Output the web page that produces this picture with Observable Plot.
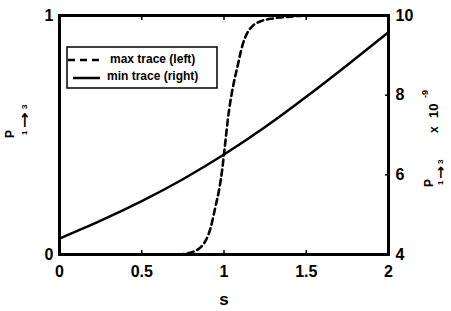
<!DOCTYPE html>
<html><head><meta charset="utf-8">
<script src="https://cdn.jsdelivr.net/npm/d3@7"></script>
<script src="https://cdn.jsdelivr.net/npm/@observablehq/plot@0.6"></script>
<style>
body{margin:0;background:#fff}
#chart{width:451px;height:311px}
</style></head><body><div id="chart"></div>
<script>
// max trace (left axis)
const sMax = [0.72, 0.78, 0.857, 0.918, 0.948, 0.97, 0.99, 1.0, 1.03, 1.06, 1.08, 1.11, 1.14, 1.18, 1.22, 1.30, 1.40, 1.50, 1.60];
const pMax = [0.0, 0.005, 0.03, 0.11, 0.20, 0.27, 0.36, 0.42, 0.60, 0.72, 0.78, 0.87, 0.925, 0.96, 0.975, 0.988, 0.995, 1.0, 1.0];
// min trace (right axis, x 10^-9)
const sMin = [0, 0.25, 0.5, 0.75, 1, 1.25, 1.5, 1.75, 2];
const pMin = [4.40, 4.85, 5.34, 5.89, 6.51, 7.20, 7.96, 8.76, 9.58];

const xTicks = [0, 0.5, 1, 1.5, 2];
const yLeftTicks = [0, 1];
const yRightTicks = [4, 6, 8, 10];
const rightDomain = [4, 10];
const legendLabels = ["max trace (left)", "min trace (right)"];

const toLeft = v => (v - rightDomain[0]) / (rightDomain[1] - rightDomain[0]);
const fromLeft = u => rightDomain[0] + u * (rightDomain[1] - rightDomain[0]);
const maxData = sMax.map((s, i) => ({s, p: pMax[i]}));
const minData = sMin.map((s, i) => ({s, p: toLeft(pMin[i])}));

const FONT = "'Liberation Sans', Arial, Helvetica, sans-serif";

const svg = Plot.plot({
  width: 451, height: 311,
  marginLeft: 59, marginRight: 63, marginTop: 15, marginBottom: 57,
  style: {fontFamily: FONT, fontWeight: "bold", fontSize: "16px", color: "#000", background: "#fff"},
  x: {domain: [0, 2]},
  y: {domain: [0, 1]},
  marks: [
    Plot.axisX(xTicks, {anchor: "bottom", tickSize: -4, tickPadding: 15, strokeWidth: 1.5, label: null, tickFormat: d => String(d), fontSize: 16, fontWeight: "bold"}),
    Plot.axisX(xTicks, {anchor: "top", tickSize: -4, strokeWidth: 1.5, label: null, tickFormat: () => ""}),
    Plot.axisY(yLeftTicks, {anchor: "left", tickSize: 0, tickPadding: 6, label: null, tickFormat: d => String(d), fontSize: 16, fontWeight: "bold"}),
    Plot.axisY(yRightTicks.map(toLeft), {anchor: "right", tickSize: -4, tickPadding: 11, strokeWidth: 1.5, label: null, tickFormat: d => String(Math.round(fromLeft(d))), fontSize: 16, fontWeight: "bold"}),
    Plot.line(minData, {x: "s", y: "p", stroke: "#000", strokeWidth: 2.5, curve: "natural"}),
    Plot.line(maxData, {x: "s", y: "p", stroke: "#000", strokeWidth: 2.6, strokeDasharray: "6,4", curve: "monotone-x"}),
    Plot.frame({stroke: "#000", strokeWidth: 3})
  ]
});
document.getElementById("chart").appendChild(svg);

const g = d3.select(svg).append("g")
  .attr("font-family", FONT).attr("font-weight", "bold").attr("fill", "#000")
  .attr("text-anchor", "start");

function rtext(x, y, size, str, len, fam) {
  const t = g.append("text").attr("transform", `translate(${x},${y}) rotate(-90)`)
    .attr("font-size", size).attr("text-anchor", "start").text(str);
  if (len) t.attr("textLength", len).attr("lengthAdjust", "spacingAndGlyphs");
  if (fam) t.attr("font-family", fam);
}
const ARROWFONT = "'DejaVu Sans', sans-serif";
// left axis label P_{1->3}
rtext(14, 138, 12, "P");
rtext(27, 135, 8, "1");
rtext(29, 128, 14, "→", 16, ARROWFONT);
rtext(27, 109, 8, "3");
// right axis label P_{1->3} x 10^{-9}
rtext(433, 187, 12, "P");
rtext(443, 185, 8, "1");
rtext(445, 179, 13, "→", 13, ARROWFONT);
rtext(443, 164, 8, "3");
rtext(438, 133, 12, "x");
rtext(438, 118, 13, "10");
rtext(428, 98, 9, "-9");

// x axis label
g.append("text").attr("x", 224).attr("y", 305).attr("text-anchor", "middle").attr("font-size", 17).text("s");

// legend
const lg = g.append("g");
lg.append("rect").attr("x", 67).attr("y", 47).attr("width", 150).attr("height", 41)
  .attr("fill", "#fff").attr("stroke", "#000").attr("stroke-width", 1.5);
lg.append("line").attr("x1", 68).attr("x2", 100).attr("y1", 60).attr("y2", 60)
  .attr("stroke", "#000").attr("stroke-width", 2.5).attr("stroke-dasharray", "7,5");
lg.append("line").attr("x1", 73).attr("x2", 100).attr("y1", 78).attr("y2", 78)
  .attr("stroke", "#000").attr("stroke-width", 2.5);
lg.append("text").attr("x", 110).attr("y", 62.5).attr("font-size", 12).text(legendLabels[0]);
lg.append("text").attr("x", 107).attr("y", 80).attr("font-size", 12).text(legendLabels[1]);
</script>
</body></html>
